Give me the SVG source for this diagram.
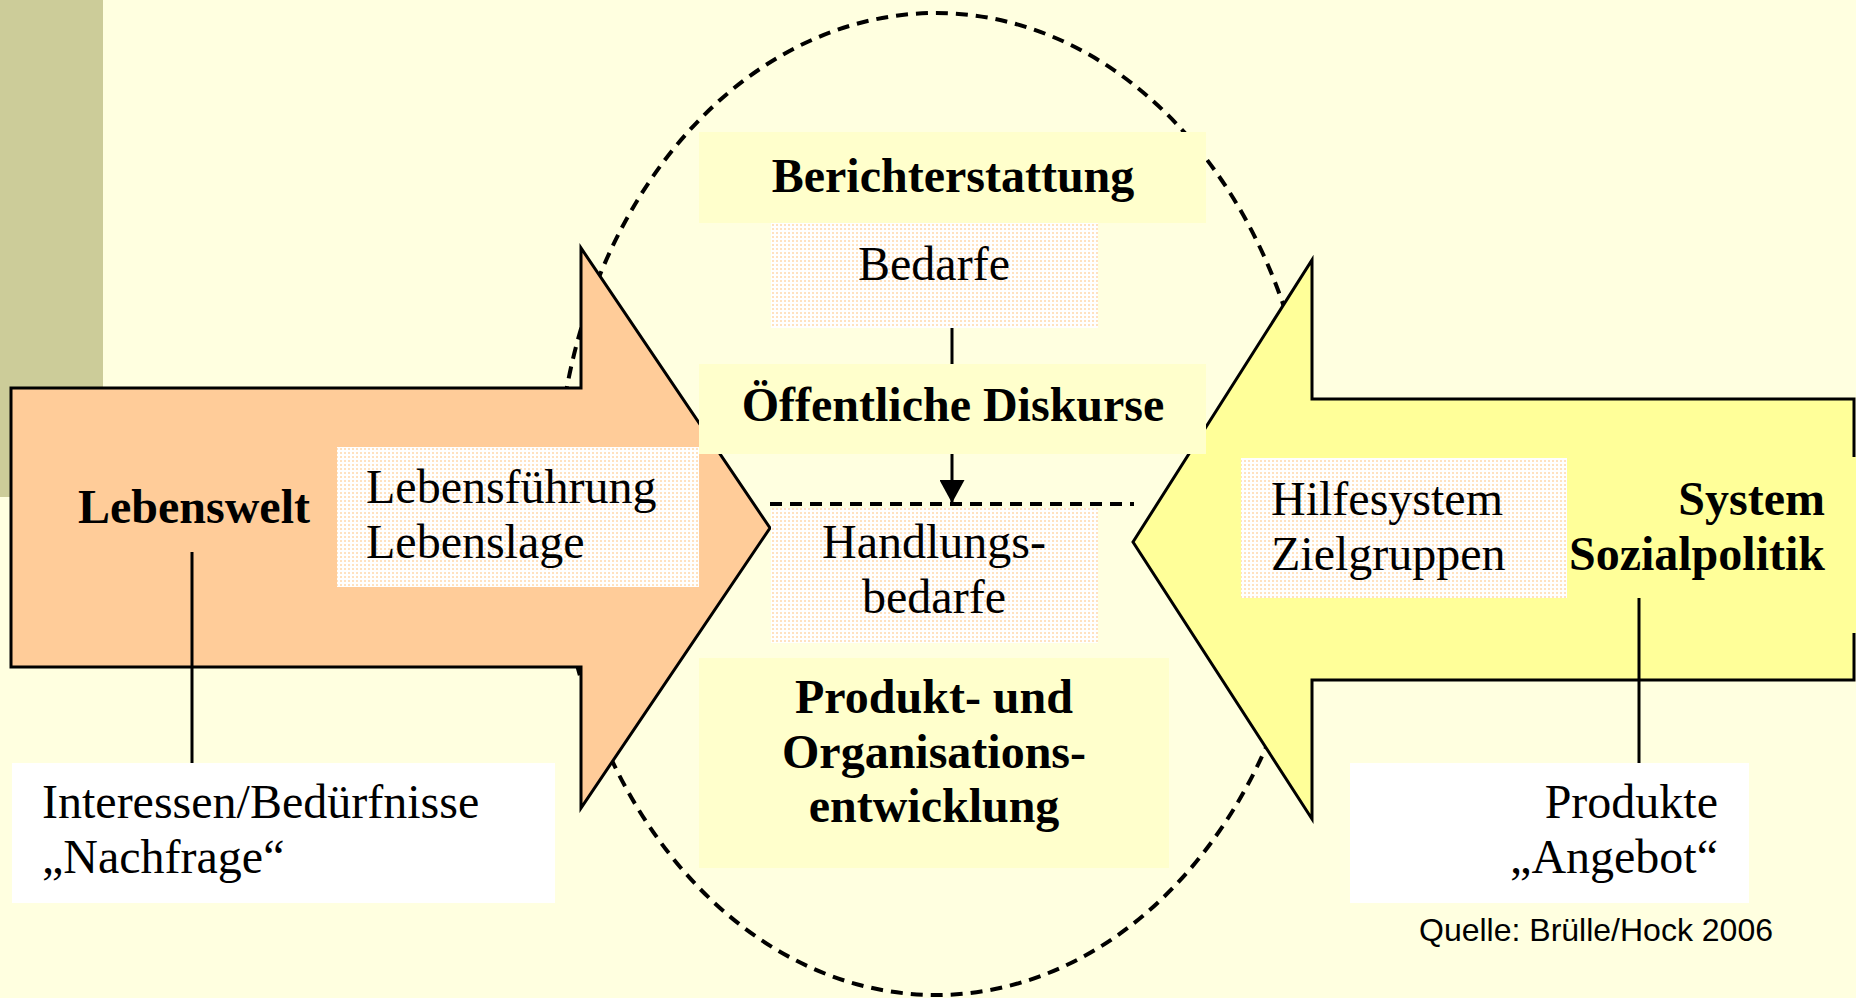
<svg xmlns="http://www.w3.org/2000/svg" width="1856" height="998" viewBox="0 0 1856 998">
  <defs>
    <pattern id="dots" width="4" height="4" patternUnits="userSpaceOnUse">
      <rect width="4" height="4" fill="#FFFFFF"/>
      <rect x="0" y="0" width="2" height="2" fill="#FFE2C0"/>
    </pattern>
    <marker id="arrowhead" viewBox="0 0 23 25" refX="23" refY="12.5" markerWidth="23" markerHeight="25" markerUnits="userSpaceOnUse" orient="auto">
      <path d="M0,0 L23,12.5 L0,25 Z" fill="#000"/>
    </marker>
  </defs>
  <style>
    .serif { font-family: "Liberation Serif", "Times New Roman", serif; font-size: 48px; fill: #000; }
    .bold { font-weight: bold; }
    .sans { font-family: "Liberation Sans", Arial, sans-serif; font-size: 32px; fill: #000; }
    .arrow { stroke: #000; stroke-width: 3; stroke-linejoin: miter; }
    .hl { fill: #FFFFCC; }
    .soft { fill: url(#dots); }
    .white { fill: #FFFFFF; }
    .conn { stroke: #000; stroke-width: 3; fill: none; }
    .dash { stroke: #000; stroke-width: 4; stroke-dasharray: 12 8; fill: none; }
  </style>

  <!-- page background and side band -->
  <rect width="1856" height="998" fill="#FFFFE0"/>
  <rect x="0" y="0" width="103" height="497" fill="#CCCC99"/>

  <!-- dashed cycle outline -->
  <ellipse class="dash" cx="936" cy="504" rx="380" ry="491"/>

  <!-- Lebenswelt arrow -->
  <g id="lebenswelt">
    <polygon class="arrow" fill="#FFCC99" points="11,388 581,388 581,248 770,528 581,808 581,667 11,667"/>
    <text class="serif bold" x="78" y="523">Lebenswelt</text>
  </g>

  <!-- System Sozialpolitik arrow -->
  <g id="sozialpolitik">
    <polygon class="arrow" fill="#FFFF99" points="1854,399 1312,399 1312,260 1133,542 1312,819 1312,680 1854,680"/>
    <rect x="1567" y="457" width="289" height="176" fill="#FFFF99"/>
    <text class="serif bold" text-anchor="end" x="1825" y="515">System</text>
    <text class="serif bold" text-anchor="end" x="1825" y="570">Sozialpolitik</text>
  </g>

  <!-- connectors -->
  <g id="connectors">
    <line class="conn" x1="952" y1="327" x2="952" y2="364"/>
    <line class="conn" x1="952" y1="454" x2="952" y2="503" marker-end="url(#arrowhead)"/>
    <line class="dash" x1="770" y1="504" x2="1134" y2="504"/>
    <line class="conn" stroke-width="2.5" x1="192" y1="552" x2="192" y2="763"/>
    <line class="conn" stroke-width="2.5" x1="1639" y1="598" x2="1639" y2="763"/>
  </g>

  <g id="berichterstattung">
    <rect class="hl" x="699" y="132" width="507" height="91"/>
    <text class="serif bold" text-anchor="middle" x="953" y="192">Berichterstattung</text>
  </g>

  <g id="bedarfe">
    <rect class="soft" x="771" y="223" width="327" height="105"/>
    <text class="serif" text-anchor="middle" x="934" y="280">Bedarfe</text>
  </g>

  <g id="diskurse">
    <rect class="hl" x="699" y="364" width="507" height="90"/>
    <text class="serif bold" text-anchor="middle" x="953" y="421">Öffentliche Diskurse</text>
  </g>

  <g id="handlungsbedarfe">
    <rect class="soft" x="771" y="508" width="327" height="135"/>
    <text class="serif" text-anchor="middle" x="934" y="558">Handlungs-</text>
    <text class="serif" text-anchor="middle" x="934" y="613">bedarfe</text>
  </g>

  <g id="entwicklung">
    <rect class="hl" x="699" y="658" width="470" height="210"/>
    <text class="serif bold" text-anchor="middle" x="934" y="713">Produkt- und</text>
    <text class="serif bold" text-anchor="middle" x="934" y="768">Organisations-</text>
    <text class="serif bold" text-anchor="middle" x="934" y="822">entwicklung</text>
  </g>

  <g id="lebensfuehrung">
    <rect class="soft" x="337" y="447" width="362" height="140"/>
    <text class="serif" x="366" y="503">Lebensführung</text>
    <text class="serif" x="366" y="558">Lebenslage</text>
  </g>

  <g id="hilfesystem">
    <rect class="soft" x="1241" y="458" width="326" height="140"/>
    <text class="serif" x="1271" y="515">Hilfesystem</text>
    <text class="serif" x="1271" y="570">Zielgruppen</text>
  </g>

  <g id="nachfrage">
    <rect class="white" x="12" y="763" width="543" height="140"/>
    <text class="serif" x="42" y="818">Interessen/Bedürfnisse</text>
    <text class="serif" x="42" y="873">„Nachfrage“</text>
  </g>

  <g id="angebot">
    <rect class="white" x="1350" y="763" width="399" height="140"/>
    <text class="serif" text-anchor="end" x="1718" y="818">Produkte</text>
    <text class="serif" text-anchor="end" x="1718" y="873">„Angebot“</text>
  </g>

  <text class="sans" x="1419" y="941">Quelle: Brülle/Hock 2006</text>
</svg>
